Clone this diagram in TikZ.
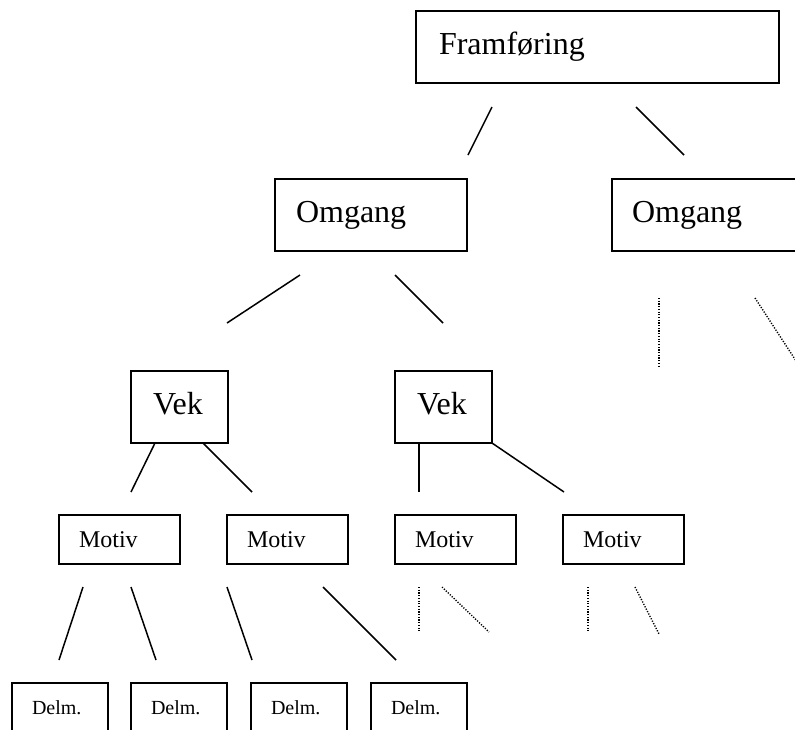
\documentclass[tikz,border=0pt]{standalone}
\usepackage{fontspec}
\setmainfont{Liberation Serif}
\tikzset{
  boks/.style={draw, line width=1.5pt, outer sep=0pt, anchor=north west, align=left, inner ysep=0pt},
  stor/.style={boks, font=\fontsize{32}{36}\selectfont, minimum height=72pt, text height=22pt, text depth=7pt},
  middels/.style={boks, font=\fontsize{24}{28}\selectfont, minimum height=49pt, inner xsep=20pt, text width=81pt},
  liten/.style={boks, font=\fontsize{20}{24}\selectfont, minimum height=49pt, inner xsep=20pt, text width=56pt},
  linje/.style={line width=1.5pt},
  prikk/.style={line width=1.4pt, dash pattern=on 1.2pt off 1.5pt},
}
\begin{document}
\begin{tikzpicture}[x=1pt, y=-1pt, line cap=butt]
  \useasboundingbox (0,0) rectangle (795,729);
  \clip (0,0) rectangle (795,729);
  % boksar
  \node[stor, inner xsep=23pt, text width=317pt] (fram) at (416,11) {Framføring};
  \node[stor, inner xsep=21pt, text width=150pt] (om1) at (275,179) {Omgang};
  \node[stor, inner xsep=20pt, text width=152pt] (om2) at (612,179) {Omgang};
  \node[stor, inner xsep=22pt, text width=53pt] (vek1) at (131,371) {Vek};
  \node[stor, inner xsep=22pt, text width=53pt] (vek2) at (395,371) {Vek};
  \foreach \n/\x in {1/59, 2/227, 3/395, 4/563}
    \node[middels] (mot\n) at (\x,515) {Motiv};
  \foreach \n/\x in {1/12, 2/131, 3/251, 4/371}
    \node[liten] (del\n) at (\x,683) {Delm.};
  % endepunkt for strekane
  \path
    (492,107) coordinate (Fa) (468,155) coordinate (Fb)
    (636,107) coordinate (Fc) (684,155) coordinate (Fd)
    (300,275) coordinate (Oa) (227,323) coordinate (Ob)
    (395,275) coordinate (Oc) (443,323) coordinate (Od)
    (155,443) coordinate (Va) (131,492) coordinate (Vb)
    (203,443) coordinate (Vc) (252,492) coordinate (Vd)
    (419,443) coordinate (Ve) (419,492) coordinate (Vf)
    (564,492) coordinate (Vg)
    (83,587) coordinate (Ma) (59,660) coordinate (Mb)
    (131,587) coordinate (Mc) (156,660) coordinate (Md)
    (227,587) coordinate (Me) (252,660) coordinate (Mf)
    (323,587) coordinate (Mg) (396,660) coordinate (Mh);
  \foreach \a/\b in {Fa/Fb, Fc/Fd, Oa/Ob, Oc/Od, Va/Vb, Vc/Vd, Ve/Vf, vek2.south east/Vg, Ma/Mb, Mc/Md, Me/Mf, Mg/Mh}
    \draw[linje] (\a) -- (\b);
  % prikka strekar der treet held fram
  \path
    (659,298) coordinate (Pa) (659,368) coordinate (Pb)
    (755,298) coordinate (Pc) (800,367) coordinate (Pd)
    (419,587) coordinate (Pe) (419,632) coordinate (Pf)
    (442,587) coordinate (Pg) (489,632) coordinate (Ph)
    (588,587) coordinate (Pi) (588,632) coordinate (Pj)
    (635,587) coordinate (Pk) (659,634) coordinate (Pl);
  \foreach \a/\b in {Pa/Pb, Pc/Pd, Pe/Pf, Pg/Ph, Pi/Pj, Pk/Pl}
    \draw[prikk] (\a) -- (\b);
\end{tikzpicture}
\end{document}
